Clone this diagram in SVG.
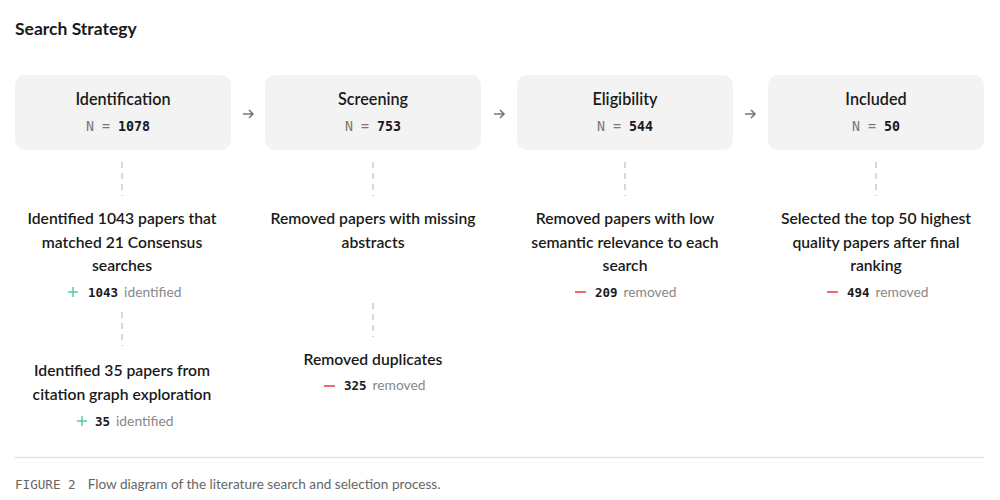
<svg xmlns="http://www.w3.org/2000/svg" width="1000" height="500" viewBox="0 0 1000 500">
<style>
.title{font-family:Lato,"Noto Sans",sans-serif;font-size:17.5px;font-weight:700;fill:#1a1a1a}
.box{fill:#f3f3f3}
.bt{font-family:Lato,"Noto Sans",sans-serif;font-size:16.2px;font-weight:600;fill:#1a1a1a;text-anchor:middle}
.n{font-family:"DejaVu Sans Mono",monospace;font-size:13.3px;fill:#777;text-anchor:middle}
.nb{font-weight:700;fill:#1a1a1a}
.d{font-family:Lato,"Noto Sans",sans-serif;font-size:15.7px;font-weight:600;fill:#1a1a1a;text-anchor:middle}
.st{font-family:Lato,"Noto Sans",sans-serif;font-size:13.8px;fill:#888}
.sn{font-family:"DejaVu Sans Mono",monospace;font-size:12.5px;font-weight:700;fill:#1a1a1a}
.dash{stroke:#d8d8d8;stroke-width:2;stroke-dasharray:6 5;fill:none}
.arr{stroke:#777;stroke-width:1.6;fill:none}
.plus{stroke:#5cc9a7;stroke-width:1.5}
.minus{stroke:#f06a6a;stroke-width:2}
.cap{font-family:Lato,"Noto Sans",sans-serif;font-size:13.6px;fill:#666}
.capm{font-family:"DejaVu Sans Mono",monospace;font-size:12.6px;fill:#666}
</style>
<rect width="1000" height="500" fill="#fff"/>
<text class="title" x="15" y="35">Search Strategy</text>

<g id="identification">
<rect class="box" x="15" y="75" width="216" height="75" rx="10"/>
<text class="bt" x="123" y="105">Identification</text>
<text class="n" x="118" y="131">N = <tspan class="nb">1078</tspan></text>
</g>
<g id="screening">
<rect class="box" x="265" y="75" width="216" height="75" rx="10"/>
<text class="bt" x="373" y="105">Screening</text>
<text class="n" x="373" y="131">N = <tspan class="nb">753</tspan></text>
</g>
<g id="eligibility">
<rect class="box" x="517" y="75" width="216" height="75" rx="10"/>
<text class="bt" x="625" y="105">Eligibility</text>
<text class="n" x="625" y="131">N = <tspan class="nb">544</tspan></text>
</g>
<g id="included">
<rect class="box" x="768" y="75" width="216" height="75" rx="10"/>
<text class="bt" x="876" y="105">Included</text>
<text class="n" x="876" y="131">N = <tspan class="nb">50</tspan></text>
</g>

<g id="connectors">
<path class="arr" d="M243 114h10M249 110l4 4-4 4"/>
<path class="arr" d="M494 114h10M500 110l4 4-4 4"/>
<path class="arr" d="M745 114h10M751 110l4 4-4 4"/>
<line class="dash" x1="122" y1="162" x2="122" y2="196"/>
<line class="dash" x1="122" y1="312" x2="122" y2="346"/>
<line class="dash" x1="373" y1="162" x2="373" y2="196"/>
<line class="dash" x1="373" y1="303" x2="373" y2="337"/>
<line class="dash" x1="625" y1="162" x2="625" y2="196"/>
<line class="dash" x1="876" y1="162" x2="876" y2="196"/>
</g>

<g id="id-desc1">
<text class="d" x="122" y="224">Identified 1043 papers that</text>
<text class="d" x="122" y="248">matched 21 Consensus</text>
<text class="d" x="122" y="271">searches</text>
<path class="plus" d="M68 292h10M73 287v10"/>
<text x="88" y="297"><tspan class="sn">1043</tspan><tspan class="st" dx="6">identified</tspan></text>
</g>
<g id="id-desc2">
<text class="d" x="122" y="376">Identified 35 papers from</text>
<text class="d" x="122" y="400">citation graph exploration</text>
<path class="plus" d="M77 421h10M82 416v10"/>
<text x="95" y="426"><tspan class="sn">35</tspan><tspan class="st" dx="6">identified</tspan></text>
</g>
<g id="scr-desc1">
<text class="d" x="373" y="224">Removed papers with missing</text>
<text class="d" x="373" y="248">abstracts</text>
</g>
<g id="scr-desc2">
<text class="d" x="373" y="365">Removed duplicates</text>
<path class="minus" d="M324 386h11"/>
<text x="344" y="390"><tspan class="sn">325</tspan><tspan class="st" dx="6">removed</tspan></text>
</g>
<g id="eli-desc">
<text class="d" x="625" y="224">Removed papers with low</text>
<text class="d" x="625" y="248">semantic relevance to each</text>
<text class="d" x="625" y="271">search</text>
<path class="minus" d="M575 292h11"/>
<text x="595" y="297"><tspan class="sn">209</tspan><tspan class="st" dx="6">removed</tspan></text>
</g>
<g id="inc-desc">
<text class="d" x="876" y="224">Selected the top 50 highest</text>
<text class="d" x="876" y="248">quality papers after final</text>
<text class="d" x="876" y="271">ranking</text>
<path class="minus" d="M827 292h11"/>
<text x="847" y="297"><tspan class="sn">494</tspan><tspan class="st" dx="6">removed</tspan></text>
</g>

<line x1="15" y1="457.5" x2="984" y2="457.5" stroke="#e3e3e3" stroke-width="1.5"/>
<text x="15" y="489"><tspan class="capm">FIGURE 2</tspan><tspan class="cap" dx="12">Flow diagram of the literature search and selection process.</tspan></text>
</svg>
